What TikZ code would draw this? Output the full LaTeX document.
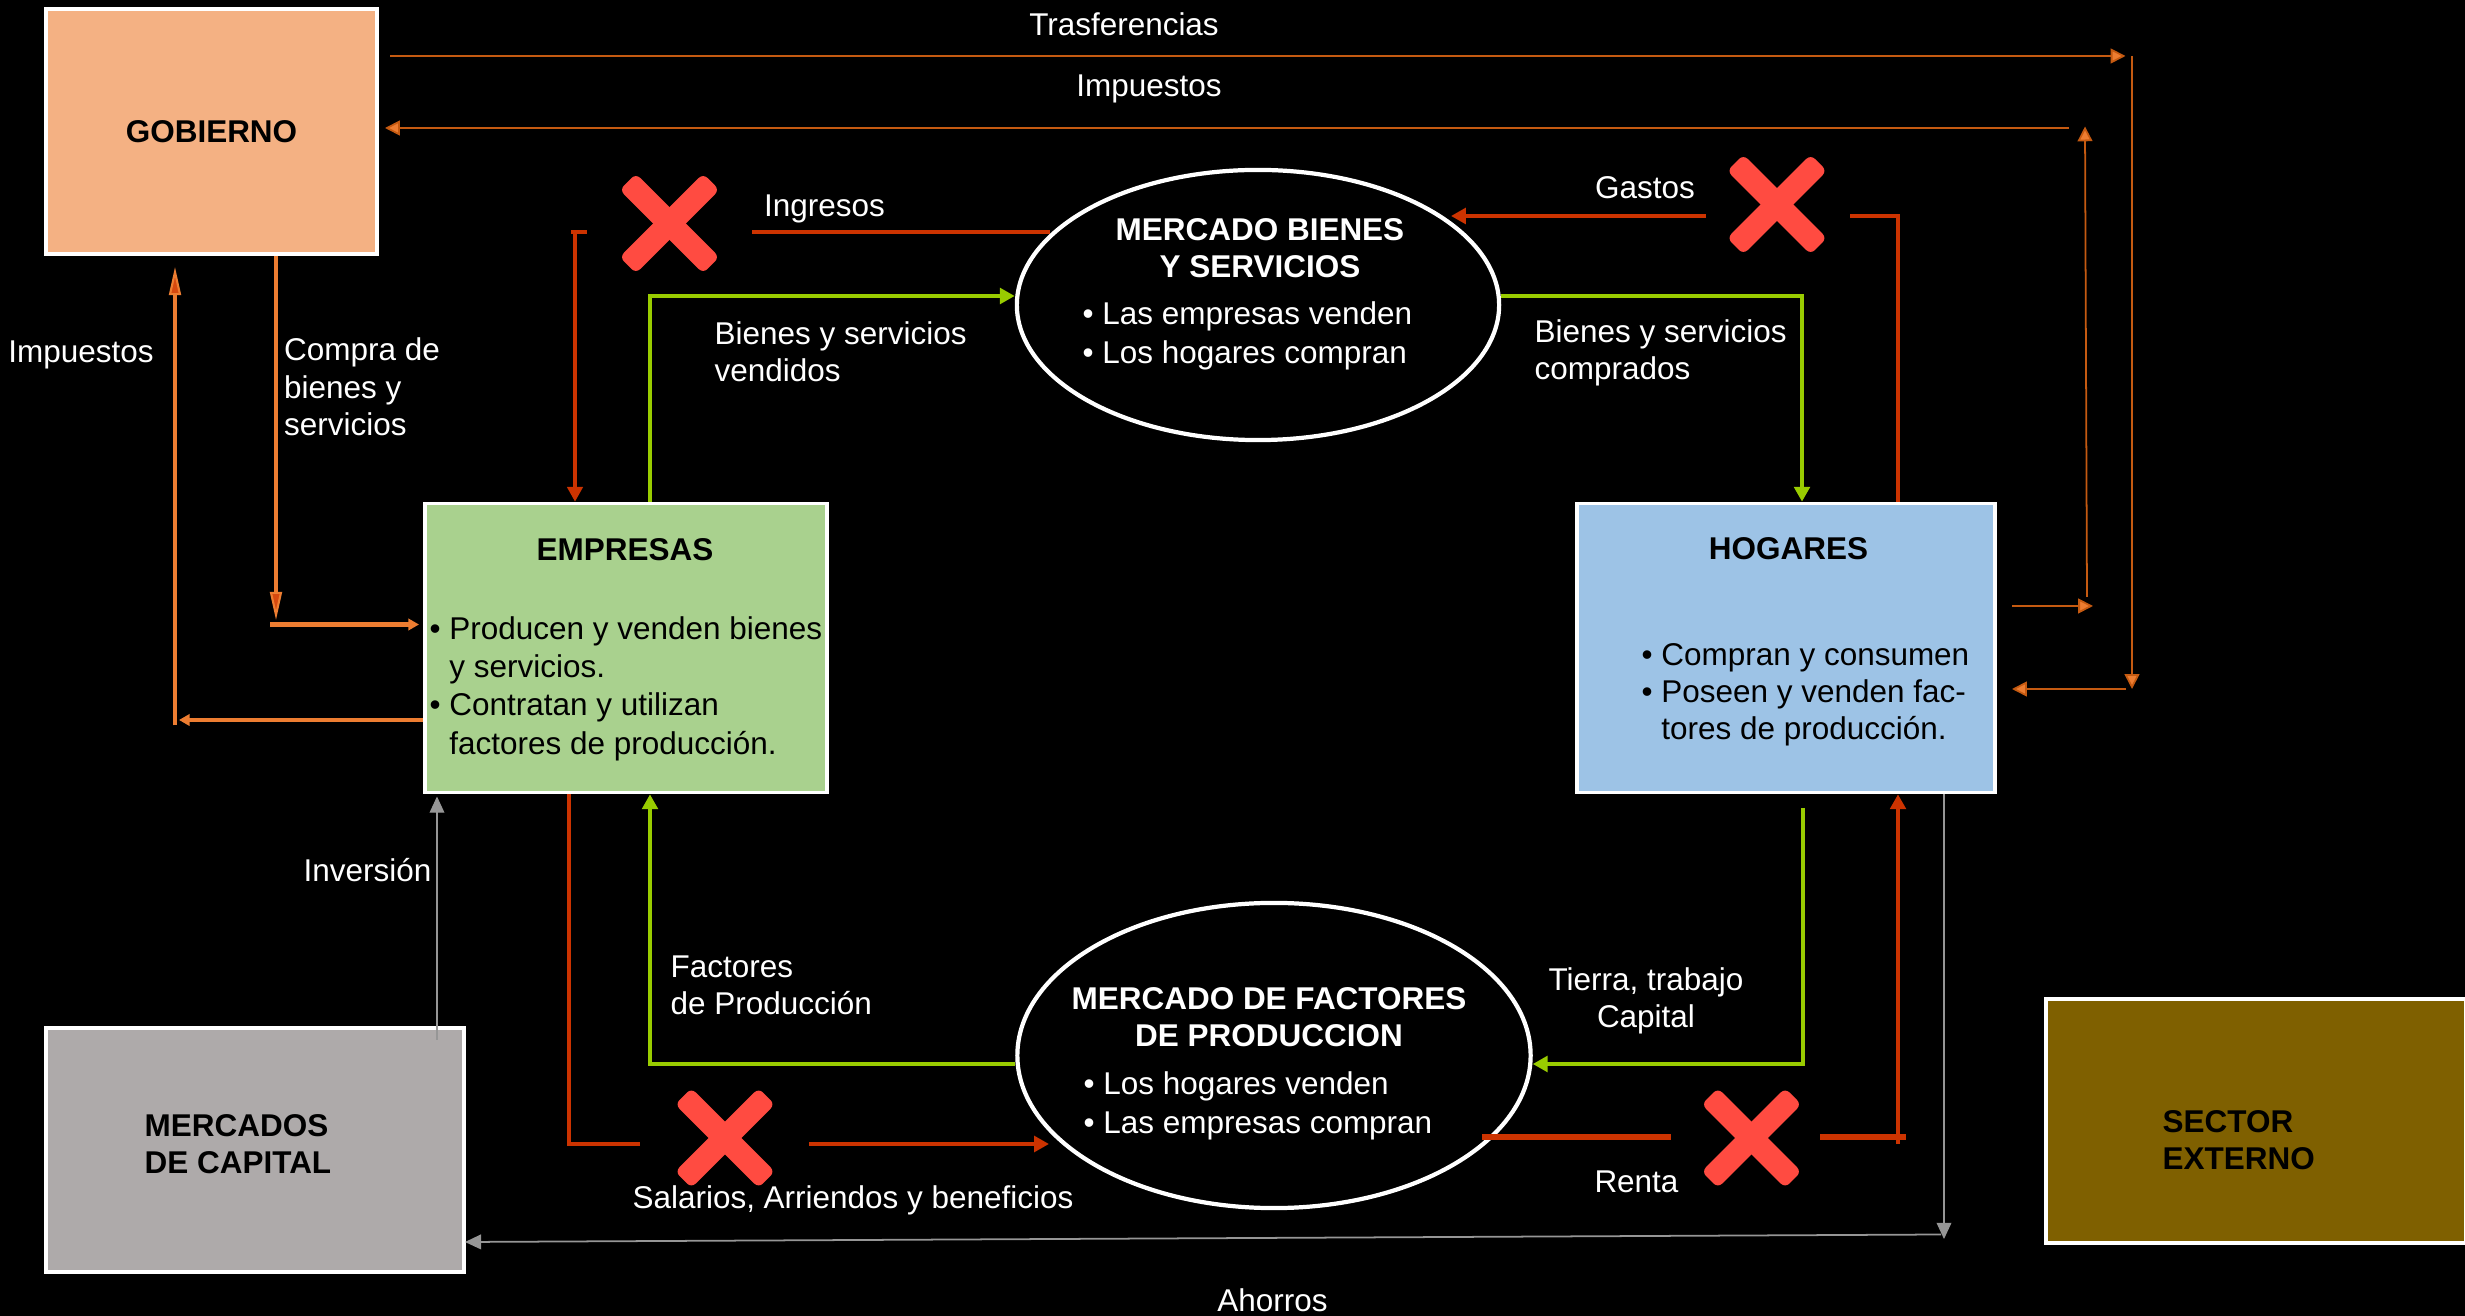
\documentclass[tikz,border=0pt]{standalone}
\usepackage{fontspec}
\setmainfont{Liberation Sans}
\usetikzlibrary{arrows.meta, shapes.geometric}

\definecolor{naranja}{HTML}{ED7D31}
\definecolor{naranjaosc}{HTML}{C55A11}
\definecolor{rojo}{HTML}{CC3300}
\definecolor{verde}{HTML}{99CC00}
\definecolor{gris}{HTML}{969696}
\definecolor{tacha}{HTML}{FF4B41}
\definecolor{fgobierno}{HTML}{F4B183}
\definecolor{fempresas}{HTML}{A9D18E}
\definecolor{fhogares}{HTML}{9DC3E6}
\definecolor{fcapital}{HTML}{AEAAAA}
\definecolor{fexterno}{HTML}{7F6000}

\newcommand{\bul}{\makebox[5.6pt][l]{•}}
\newcommand{\sinbul}{\hspace*{5.6pt}}

\begin{document}
\begin{tikzpicture}[
		x=0.01cm,
		y=-0.01cm,
		caja/.style= {
				draw=white,
				line width=1pt,
				inner sep=0pt,
				font=\fontsize{8.95}{10.6}\selectfont\bfseries,
				text=black
			},
		elipse/.style= {
				draw=white,
				ellipse,
				line width=1.2pt,
				inner sep=0pt
			},
		tachado/.style= {
				rectangle,
				fill=tacha,
				rounded corners=0.06cm,
				inner sep=0pt,
				minimum width=1.18cm,
				minimum height=0.23cm
			},
		txt/.style= {
				inner sep=0pt,
				align=left,
				font=\fontsize{8.95}{10.6}\selectfont,
				text=white
			},
		txtneg/.style= {
				txt,
				text=black
			},
		txtbold/.style= {
				txt,
				align=center,
				font=\fontsize{8.95}{10.6}\selectfont\bfseries
			},
		boldneg/.style= {
				txtbold,
				align=left,
				text=black
			},
		flecharoja/.style= {
				draw=rojo,
				line width=1.1pt,
				-{Triangle[length=4.2pt,width=4.4pt]}
			},
		linearoja/.style= {
				draw=rojo,
				line width=1.1pt
			},
		flechaverde/.style= {
				draw=verde,
				line width=1.1pt,
				-{Triangle[length=4.2pt,width=4.4pt]}
			},
		flechanar/.style= {
				draw=naranja,
				line width=1.3pt,
				-{Triangle[length=3pt,width=3.2pt]}
			},
		flechalarga/.style= {
				draw=naranja,
				line width=1.1pt,
				-{Triangle[length=8pt,width=3.4pt,line width=0.6pt,fill=rojo!70!naranja]}
			},
		flechafina/.style= {
				draw=naranjaosc,
				line width=0.5pt,
				-{Triangle[length=4.2pt,width=4.2pt,fill=naranja]}
			},
		flechagris/.style= {
				draw=gris,
				line width=0.3pt,
				-{Triangle[length=4.6pt,width=4.2pt]}
			}
	]

	\path[use as bounding box, fill=black] (0,0) rectangle (2465,1316);

	% cajas
	\node[caja, fill=fgobierno, minimum width=3.31cm, minimum height=2.45cm] (gobierno) at (211.5,131.5) {GOBIERNO};
	\node[caja, fill=fempresas, minimum width=4.02cm, minimum height=2.89cm] (empresas) at (626,648) {};
	\node[caja, fill=fhogares, minimum width=4.18cm, minimum height=2.89cm] (hogares) at (1786,648) {};
	\node[caja, fill=fcapital, minimum width=4.18cm, minimum height=2.44cm] (capital) at (255,1150) {};
	\node[caja, fill=fexterno, minimum width=4.195cm, minimum height=2.44cm] (externo) at (2255.75,1121) {};
	\node[elipse, minimum width=4.82cm, minimum height=2.70cm] (mbienes) at (1258,305) {};
	\node[elipse, minimum width=5.13cm, minimum height=3.05cm] (mfactores) at (1274,1055.5) {};

	% aspas
	\node[tachado, rotate=45] (aspa1a) at (669.5,223.5) {};
	\node[tachado, rotate=-45] (aspa1b) at (669.5,223.5) {};
	\node[tachado, rotate=45] (aspa2a) at (1777,204.5) {};
	\node[tachado, rotate=-45] (aspa2b) at (1777,204.5) {};
	\node[tachado, rotate=45] (aspa3a) at (725,1138) {};
	\node[tachado, rotate=-45] (aspa3b) at (725,1138) {};
	\node[tachado, rotate=45] (aspa4a) at (1751.5,1138) {};
	\node[tachado, rotate=-45] (aspa4b) at (1751.5,1138) {};

	% textos de cajas
	\node[boldneg] (tempresas) at (625,550) {EMPRESAS};
	\node[txtneg, anchor=west] (lempresas) at (429,689) {\bul Producen y venden bienes\\[0.2pt]\sinbul y servicios.\\[0.2pt]\bul Contratan y utilizan\\[0.6pt]\sinbul factores de producción.};
	\node[boldneg] (thogares) at (1788.5,549) {HOGARES};
	\node[txtneg, anchor=west] (lhogares) at (1641,695) {\bul Compran y consumen\\\bul Poseen y venden fac-\\\sinbul tores de producción.};
	\node[boldneg, anchor=west] (tcapital) at (144,1144) {MERCADOS\\DE CAPITAL};
	\node[boldneg, anchor=west] (texterno) at (2162,1140) {SECTOR\\EXTERNO};

	% textos de mercados
	\node[txtbold] (tbienes) at (1260,248) {MERCADO BIENES\\Y SERVICIOS};
	\node[txt, anchor=west] (lbienes) at (1082,336) {\bul Las empresas venden\\[0.6pt]\bul Los hogares compran};
	\node[txtbold] (tfactores) at (1269,1017) {MERCADO DE FACTORES\\DE PRODUCCION};
	\node[txt, anchor=west] (lfactores) at (1083,1106) {\bul Los hogares venden\\[0.6pt]\bul Las empresas compran};

	% etiquetas
	\node[txt] (ltrasf) at (1124,24) {Trasferencias};
	\node[txt] (limp1) at (1149,89) {Impuestos};
	\node[txt] (lingresos) at (824.5,209) {Ingresos};
	\node[txt] (lgastos) at (1645,188) {Gastos};
	\node[txt] (limp2) at (81,355) {Impuestos};
	\node[txt, anchor=west] (lcompra) at (283.5,387) {Compra de\\bienes y\\servicios};
	\node[txt, anchor=west] (lvendidos) at (714,352) {Bienes y servicios\\vendidos};
	\node[txt, anchor=west] (lcomprados) at (1534,353) {Bienes y servicios\\comprados};
	\node[txt] (linversion) at (367.5,870) {Inversión};
	\node[txt, anchor=west] (lfactor) at (670,985) {Factores\\de Producción};
	\node[txt, align=center] (ltierra) at (1646,1001) {Tierra, trabajo\\Capital};
	\node[txt] (lsalarios) at (853,1200) {Salarios, Arriendos y beneficios};
	\node[txt] (lrenta) at (1636.5,1181.5) {Renta};
	\node[txt] (lahorros) at (1272.5,1300) {Ahorros};

	% puntos sueltos
	\coordinate (a1) at (390,56);
	\coordinate (a2) at (2125.5,56);
	\coordinate (a3) at (2132,56);
	\coordinate (a4) at (2132,689);
	\coordinate (a5) at (2126,689);
	\coordinate (a6) at (2012,689);
	\coordinate (b1) at (2012,606);
	\coordinate (b2) at (2093,606);
	\coordinate (b3) at (2087,597);
	\coordinate (b4) at (2085,126.5);
	\coordinate (b5) at (2069,128);
	\coordinate (b6) at (385,128);
	\coordinate (c1) at (276,620);
	\coordinate (c2) at (270,624.5);
	\coordinate (c3) at (419,624.5);
	\coordinate (c4) at (179,720);
	\coordinate (c5) at (175,725.5);
	\coordinate (c6) at (175,267);
	\coordinate (d1) at (1050,232);
	\coordinate (d2) at (752,232);
	\coordinate (d3) at (587,232);
	\coordinate (d4) at (570.5,232);
	\coordinate (d5) at (575,232);
	\coordinate (e1) at (650,296);
	\coordinate (e2) at (1802,296);
	\coordinate (f1) at (1706,216);
	\coordinate (f2) at (1451,216);
	\coordinate (f3) at (1850,216);
	\coordinate (f4) at (1898,216);
	\coordinate (g1) at (569,1144);
	\coordinate (g2) at (640,1144);
	\coordinate (g3) at (809,1144);
	\coordinate (g4) at (1049,1144);
	\coordinate (h1) at (650,1064);
	\coordinate (h2) at (1802.7,808);
	\coordinate (h3) at (1802.7,1064);
	\coordinate (i1) at (1482,1137);
	\coordinate (i2) at (1671,1137);
	\coordinate (i3) at (1820,1137);
	\coordinate (i4) at (1906,1137);
	\coordinate (i5) at (1898,1144);
	\coordinate (j1) at (437,1040);
	\coordinate (j2) at (437,796.5);
	\coordinate (j3) at (1944,1239);
	\coordinate (j4) at (1941,1234.5);
	\coordinate (j5) at (465,1242);

	% flujos con el gobierno y el exterior
	\draw[flechafina] (a1) -- (a2);
	\draw[flechafina] (a3) -- (a4);
	\draw[flechafina] (a5) -- (a6);
	\draw[flechafina] (b1) -- (b2);
	\draw[flechafina] (b3) -- (b4);
	\draw[flechafina] (b5) -- (b6);
	\draw[flechalarga] (gobierno.south -| c1) -- (c1);
	\draw[flechanar] (c2) -- (c3);
	\draw[flechanar] (empresas.west |- c4) -- (c4);
	\draw[flechalarga] (c5) -- (c6);

	% flujos de dinero
	\draw[linearoja] (d1) -- (d2);
	\draw[linearoja] (d3) -- (d4);
	\draw[flecharoja, line width=0.9pt] (d5) -- (d5 |- empresas.north);
	\draw[flecharoja] (f1) -- (f2);
	\draw[linearoja] (f3) -- (f4) -- (f4 |- hogares.north);
	\draw[linearoja] (empresas.south -| g1) -- (g1) -- (g2);
	\draw[flecharoja] (g3) -- (g4);
	\draw[linearoja, line width=1.5pt] (i1) -- (i2);
	\draw[linearoja, line width=1.5pt] (i3) -- (i4);
	\draw[flecharoja] (i5) -- (i5 |- hogares.south);

	% flujos reales
	\draw[flechaverde] (e1 |- empresas.north) -- (e1) -- (mbienes.west |- e1);
	\draw[flechaverde] (mbienes.east |- e2) -- (e2) -- (e2 |- hogares.north);
	\draw[flechaverde] (h2) -- (h3) -- (mfactores.east |- h3);
	\draw[flechaverde] (mfactores.west |- h1) -- (h1) -- (h1 |- empresas.south);

	% ahorro e inversion
	\draw[flechagris] (j1) -- (j2);
	\draw[flechagris] (j3 |- hogares.south) -- (j3);
	\draw[flechagris, line width=0.5pt] (j4) -- (j5);
\end{tikzpicture}
\end{document}
